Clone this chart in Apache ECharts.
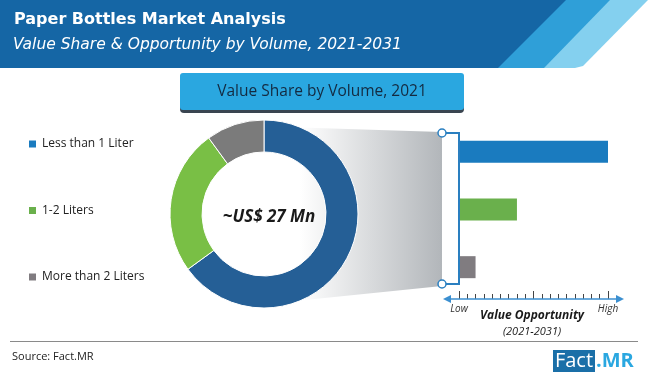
<!DOCTYPE html>
<html>
<head>
<meta charset="utf-8">
<script src="https://cdn.jsdelivr.net/npm/echarts@6/dist/echarts.min.js"></script>
<style>
  html, body { margin: 0; padding: 0; background: #fff; }
  #chart { width: 650px; height: 375px; }
</style>
</head>
<body>
<div id="chart"></div>
<script>
// 纸瓶市场 - 按容量的价值份额
var categories = ['Less than 1 Liter', '1-2 Liters', 'More than 2 Liters'];
var shareValues = [65, 25, 10];          // 2021 value share, %
var opportunityValues = [18, 7, 2];      // relative opportunity, Low(0) .. High(18)
var donutColors = ['#255f96', '#79bf45', '#7b7b7b'];
var barColors = ['#1a7bbf', '#6ab04c', '#807c80'];
var tickLabels = { 0: 'Low', 18: 'High' };

var chartDom = document.getElementById('chart');
var myChart = echarts.init(chartDom);

var pieData = categories.map(function (name, i) {
    return { name: name, value: shareValues[i], itemStyle: { color: donutColors[i] } };
});
var barData = categories.map(function (name, i) {
    return { value: opportunityValues[i], itemStyle: { color: barColors[i] } };
});

var option = {
    backgroundColor: '#fff',
    animation: false,
    title: [{
        text: '~US$ 27 Mn',
        left: 264,
        top: 204,
        textAlign: 'center',
        textStyle: { fontFamily: 'Open Sans', fontSize: 17, fontWeight: 'bold', fontStyle: 'italic', color: '#1a1a1a' }
    }],
    legend: {
        orient: 'vertical',
        left: 27,
        top: 138,
        padding: 0,
        itemGap: 54.5,
        itemWidth: 9,
        itemHeight: 9,
        icon: 'rect',
        selectedMode: false,
        textStyle: { fontFamily: 'Open Sans', fontSize: 12, color: '#222' },
        data: categories.map(function (name, i) {
            return { name: name, itemStyle: { color: barColors[i] } };
        })
    },
    grid: { left: 459, top: 123, width: 149, height: 173 },
    xAxis: {
        type: 'value',
        min: 0,
        max: 18,
        interval: 9,
        offset: 3,
        axisLine: { show: false },
        splitLine: { show: false },
        axisTick: { show: true, inside: true, length: 8, lineStyle: { color: '#444', width: 1 } },
        minorTick: { show: true, splitNumber: 9, length: 5, lineStyle: { color: '#444', width: 1 } },
        axisLabel: {
            margin: 5,
            fontFamily: 'Open Sans',
            fontSize: 10,
            fontStyle: 'italic',
            color: '#333',
            formatter: function (v) { return tickLabels[v] || ''; }
        }
    },
    yAxis: {
        type: 'category',
        inverse: true,
        data: categories,
        axisLine: { show: false },
        axisTick: { show: false },
        axisLabel: { show: false }
    },
    graphic: [
        // header band with stripes
        { type: 'polygon', z: 1, shape: { points: [[0, 0], [648, 0], [583, 66], [575, 68], [0, 68]] }, style: { fill: '#84d0ef' } },
        { type: 'polygon', z: 2, shape: { points: [[0, 0], [610, 0], [544, 68], [0, 68]] }, style: { fill: '#2f9fd8' } },
        { type: 'polygon', z: 3, shape: { points: [[0, 0], [566, 0], [498, 68], [0, 68]] }, style: { fill: '#1566a5' } },
        { type: 'text', z: 4, left: 14, top: 12, style: { text: 'Paper Bottles Market Analysis', fill: '#fff', font: 'bold 16px "DejaVu Sans"' } },
        { type: 'text', z: 4, left: 13, top: 37, style: { text: 'Value Share & Opportunity by Volume, 2021-2031', fill: '#fff', font: 'italic 15.5px "DejaVu Sans"' } },
        // sub title box
        { type: 'rect', z: 4, shape: { x: 180, y: 76, width: 284, height: 37, r: 4 }, style: { fill: '#3a4550' } },
        { type: 'rect', z: 5, shape: { x: 180, y: 73, width: 284, height: 37, r: 3 }, style: { fill: '#2aa7e0' } },
        { type: 'text', z: 6, x: 322, y: 92, style: { text: 'Value Share by Volume, 2021', fill: '#142a40', font: '15.5px "Open Sans"', align: 'center', verticalAlign: 'middle' } },
        // gradient connector
        {
            type: 'polygon', z: -1,
            shape: { points: [[300, 127.5], [442, 132], [442, 286], [300, 300.5]] },
            style: {
                fill: new echarts.graphic.LinearGradient(0, 0, 1, 0, [
                    { offset: 0, color: '#ffffff' },
                    { offset: 1, color: '#b2b6ba' }
                ])
            }
        },
        // bracket
        { type: 'line', z: 5, shape: { x1: 459, y1: 132, x2: 459, y2: 285 }, style: { stroke: '#2a7fc0', lineWidth: 2 } },
        { type: 'line', z: 5, shape: { x1: 442, y1: 133, x2: 459, y2: 133 }, style: { stroke: '#2a7fc0', lineWidth: 2 } },
        { type: 'line', z: 5, shape: { x1: 442, y1: 284, x2: 459, y2: 284 }, style: { stroke: '#2a7fc0', lineWidth: 2 } },
        { type: 'circle', z: 6, shape: { cx: 442, cy: 133, r: 4 }, style: { fill: '#fff', stroke: '#2a7fc0', lineWidth: 1.5 } },
        { type: 'circle', z: 6, shape: { cx: 442, cy: 284, r: 4 }, style: { fill: '#fff', stroke: '#2a7fc0', lineWidth: 1.5 } },
        // arrow axis line
        { type: 'line', z: 5, shape: { x1: 446, y1: 299, x2: 621, y2: 299 }, style: { stroke: '#3b8fd0', lineWidth: 1.5 } },
        { type: 'polygon', z: 5, shape: { points: [[443, 299], [451, 295], [451, 303]] }, style: { fill: '#3b8fd0' } },
        { type: 'polygon', z: 5, shape: { points: [[624, 299], [616, 295], [616, 303]] }, style: { fill: '#3b8fd0' } },
        { type: 'text', z: 5, x: 532, y: 316, style: { text: 'Value Opportunity', fill: '#1a1a1a', font: 'italic bold 12px "Open Sans"', align: 'center', verticalAlign: 'middle' } },
        { type: 'text', z: 5, x: 532, y: 332, style: { text: '(2021-2031)', fill: '#1a1a1a', font: 'italic 11px "Open Sans"', align: 'center', verticalAlign: 'middle' } },
        // footer
        { type: 'line', z: 5, shape: { x1: 10, y1: 341.5, x2: 638, y2: 341.5 }, style: { stroke: '#8a8a8a', lineWidth: 1 } },
        { type: 'text', z: 5, left: 12, top: 351, style: { text: 'Source: Fact.MR', fill: '#222', font: '11px "Open Sans"' } },
        { type: 'rect', z: 5, shape: { x: 553, y: 350, width: 42, height: 22 }, style: { fill: '#1a6fa8' } },
        { type: 'text', z: 6, x: 574, y: 361, style: { text: 'Fact', fill: '#fff', font: '20px "Open Sans"', align: 'center', verticalAlign: 'middle' } },
        { type: 'text', z: 6, x: 596, y: 361, style: { text: '.MR', fill: '#2aa7e0', font: 'bold 20px "Open Sans"', align: 'left', verticalAlign: 'middle' } }
    ],
    series: [
        {
            name: 'Value Share by Volume, 2021',
            type: 'pie',
            center: [264, 214],
            radius: [62, 94],
            startAngle: 90,
            clockwise: true,
            label: { show: false },
            labelLine: { show: false },
            itemStyle: { borderColor: '#fff', borderWidth: 1 },
            data: pieData
        },
        {
            name: 'Value Opportunity',
            type: 'bar',
            barWidth: 22,
            data: barData
        }
    ]
};

myChart.setOption(option);
</script>
</body>
</html>
